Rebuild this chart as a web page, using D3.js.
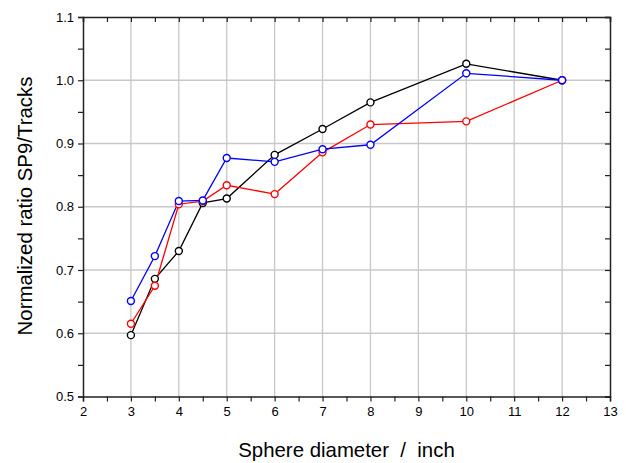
<!DOCTYPE html>
<html><head><meta charset="utf-8">
<script src="https://cdn.jsdelivr.net/npm/d3@7"></script>
<style>body{margin:0;background:#fff}svg{display:block;font-family:"Liberation Sans",Arial,sans-serif}</style>
</head><body><svg id="c" width="626" height="463"></svg>
<script>
const diameters = [3, 3.5, 4, 4.5, 5, 6, 7, 8, 10, 12];
const blackSeries = [0.597, 0.686, 0.730, 0.806, 0.813, 0.882, 0.923, 0.965, 1.026, 1.0];
const redSeries   = [0.615, 0.675, 0.804, 0.809, 0.834, 0.820, 0.886, 0.930, 0.935, 1.0];
const blueSeries  = [0.651, 0.722, 0.809, 0.810, 0.877, 0.871, 0.891, 0.898, 1.011, 1.0];
const xTicks = [2,3,4,5,6,7,8,9,10,11,12,13];
const yTicks = [0.5,0.6,0.7,0.8,0.9,1.0,1.1];
const series = [
  {name:"black", color:"#000000", values: blackSeries},
  {name:"red", color:"#ff0000", values: redSeries},
  {name:"blue", color:"#0000ff", values: blueSeries}
];

const svg = d3.select("#c");
const L=83, R=610, T=17, B=396.5;
const x = d3.scaleLinear().domain([2,13]).range([L,R]);
const y = d3.scaleLinear().domain([0.5,1.1]).range([B,T]);

// grid
const g = svg.append("g");
g.selectAll(".gx").data(xTicks.slice(1,-1)).enter().append("line")
  .attr("x1",d=>x(d)).attr("x2",d=>x(d)).attr("y1",T).attr("y2",B)
  .attr("stroke","#c8c8c8").attr("stroke-width",1.3);
g.selectAll(".gy").data(yTicks.slice(1,-1)).enter().append("line")
  .attr("y1",d=>y(d)).attr("y2",d=>y(d)).attr("x1",L).attr("x2",R)
  .attr("stroke","#c8c8c8").attr("stroke-width",1.3);

const xMinor = d3.range(2,13.01,0.5);
const yMinor = d3.range(0.5,1.101,0.05);

const xb = svg.append("g").attr("transform",`translate(0,${B})`)
  .call(d3.axisBottom(x).tickValues(xMinor).tickSize(5).tickFormat(d=>Number.isInteger(d)?d:""));
const yl = svg.append("g").attr("transform",`translate(${L},0)`)
  .call(d3.axisLeft(y).tickValues(yMinor).tickSize(5).tickFormat(d=>{const r=Math.round(d*100); return r%10===0? d3.format(".1f")(d):"";}));
const xt = svg.append("g").attr("transform",`translate(0,${T})`)
  .call(d3.axisBottom(x).tickValues(xMinor).tickSize(5).tickFormat(""));
const yr = svg.append("g").attr("transform",`translate(${R},0)`)
  .call(d3.axisLeft(y).tickValues(yMinor).tickSize(5).tickFormat(""));
[xb,yl,xt,yr].forEach(a=>{
  a.select(".domain").attr("stroke","#222").attr("stroke-width",1.5);
  a.selectAll(".tick line").attr("stroke","#222").attr("stroke-width",1.2);
  a.selectAll(".tick text").attr("font-size",13).attr("fill","#000").attr("font-family","Liberation Sans, Arial, sans-serif");
});
xb.selectAll(".tick text").attr("dy","0.71em").attr("y",10);
yl.selectAll(".tick text").attr("x",-9);

const line = d3.line().x((d,i)=>x(diameters[i])).y(d=>y(d));
series.forEach(s=>{
  svg.append("path").datum(s.values).attr("d",line).attr("fill","none")
    .attr("stroke",s.color).attr("stroke-width",1.3);
});
series.forEach(s=>{
  svg.append("g").selectAll("circle").data(s.values).enter().append("circle")
    .attr("cx",(d,i)=>x(diameters[i])).attr("cy",d=>y(d)).attr("r",3.5)
    .attr("fill","#fff").attr("stroke",s.color).attr("stroke-width",1.4);
});

svg.append("text").attr("x",(L+R)/2).attr("y",457).attr("text-anchor","middle")
  .attr("font-size",20.4).style("white-space","pre").text("Sphere diameter  /  inch");
svg.append("text").attr("transform",`translate(32,206) rotate(-90)`).attr("text-anchor","middle")
  .attr("font-size",20.4).text("Normalized ratio SP9/Tracks");
</script></body></html>
